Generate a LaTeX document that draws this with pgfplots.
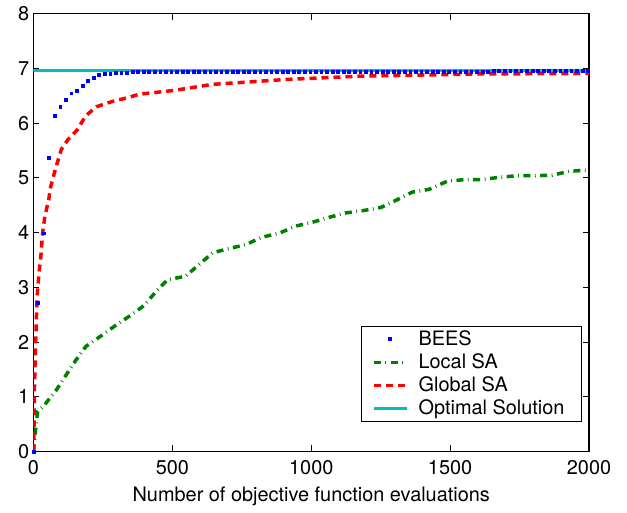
\documentclass[border=0pt]{standalone}
\usepackage{fontspec}
\setmainfont{TeX Gyre Heros}
\usepackage{pgfplots}
\pgfplotsset{compat=1.18}
\definecolor{mcyan}{rgb}{0,0.75,0.75}
\definecolor{mgreen}{rgb}{0,0.5,0}

\begin{document}
\fontsize{19.9}{24}\selectfont
\begin{tikzpicture}
\begin{axis}[
  scale only axis, width=555.5pt, height=437.5pt,
  xmin=0, xmax=2000, ymin=0, ymax=8,
  xtick={0,500,...,2000}, ytick={0,1,...,8},
  scaled x ticks=false,
  /pgf/number format/1000 sep={},
  /pgf/number format/assume math mode=true,
  tick label style={font=\fontsize{19.9}{24}\selectfont},
  xticklabel style={yshift=-2.5pt},
  yticklabel style={xshift=2.5pt},
  label style={font=\fontsize{19.9}{24}\selectfont},
  xlabel style={at={(axis description cs:0.5,0)}, anchor=base, yshift=-50pt},
  tick align=inside, major tick length=6pt,
  axis line style={line width=1.3pt},
  every tick/.style={black, line width=0.8pt},
  xlabel={Number of objective function evaluations},
  legend style={at={(0.9874,0.0674)}, anchor=south east, draw=black,
    line width=1pt, font=\fontsize{19.9}{24}\selectfont,
    inner xsep=11pt, inner ysep=1.5pt, row sep=0pt, column sep=0pt,
    nodes={inner xsep=6pt, inner ysep=2pt, text height=16pt, text depth=3pt}},
  legend cell align=left,
  legend image code/.code={
    \draw[mark repeat=2,mark phase=2] plot coordinates {(0pt,0pt) (16.5pt,0pt) (33pt,0pt)};
    \path (37pt,0pt);},
]
\coordinate (ll) at (rel axis cs:0,0);
\coordinate (ur) at (rel axis cs:1,1);
% BEES
\addplot[only marks, blue, mark=square*, mark size=1.4pt] coordinates {
 (0,0)(16,2.72)(36,3.99)(56,5.37)(76,6.13)(96,6.30)(116,6.43)(136,6.55)(156,6.60)(176,6.69)
 (196,6.78)(216,6.83)(236,6.88)(256,6.90)(276,6.91)(296,6.92)(316,6.925)(336,6.93)(356,6.935)(376,6.935)
 (396,6.935)(416,6.935)(436,6.935)(456,6.935)(476,6.935)(496,6.935)(516,6.935)(536,6.935)(556,6.935)(576,6.935)
 (596,6.935)(616,6.935)(636,6.935)(656,6.935)(676,6.935)(696,6.935)(716,6.935)(736,6.935)(756,6.935)(776,6.935)
 (796,6.935)(816,6.935)(836,6.935)(856,6.935)(876,6.935)(896,6.935)(916,6.935)(936,6.935)(956,6.935)(976,6.935)
 (996,6.935)(1016,6.935)(1036,6.935)(1056,6.935)(1076,6.935)(1096,6.935)(1116,6.935)(1136,6.935)(1156,6.935)(1176,6.935)
 (1196,6.935)(1216,6.935)(1236,6.935)(1256,6.935)(1276,6.935)(1296,6.935)(1316,6.935)(1336,6.935)(1356,6.935)(1376,6.935)
 (1396,6.935)(1416,6.935)(1436,6.935)(1456,6.935)(1476,6.935)(1496,6.935)(1516,6.935)(1536,6.935)(1556,6.935)(1576,6.935)
 (1596,6.935)(1616,6.935)(1636,6.945)(1656,6.955)(1676,6.955)(1696,6.955)(1716,6.955)(1736,6.955)(1756,6.955)(1776,6.955)
 (1796,6.955)(1816,6.955)(1836,6.955)(1856,6.955)(1876,6.955)(1896,6.955)(1916,6.955)(1936,6.96)(1956,6.96)(1976,6.96)
 (1996,6.965)
};
\addlegendentry{BEES}
% Local SA
\addplot[mgreen, line width=3.5pt, dash pattern=on 7pt off 4.5pt on 0.8pt off 4.5pt] coordinates {
 (0,0)(4,0.21)(10,0.51)(15,0.73)(40,0.85)(82,1.12)(118,1.40)(153,1.67)(189,1.92)(243,2.11)
 (295,2.30)(345,2.47)(399,2.67)(439,2.91)(483,3.14)(547,3.20)(597,3.42)(645,3.63)(705,3.71)(765,3.78)
 (819,3.91)(885,3.99)(945,4.12)(1005,4.19)(1065,4.28)(1125,4.36)(1185,4.40)(1251,4.46)(1305,4.59)(1364,4.74)
 (1424,4.79)(1490,4.94)(1556,4.97)(1616,4.97)(1676,5.01)(1742,5.04)(1808,5.04)(1868,5.05)(1928,5.12)(1988,5.14)
 (2000,5.14)
};
\addlegendentry{Local SA}
% Global SA
\addplot[red, line width=3.5pt, dash pattern=on 7pt off 5pt] coordinates {
 (0,0)(2,0.5)(3.6,1.19)(6,1.7)(9.6,2.29)(13,2.84)(21,3.32)(27,3.6)(33,4.0)(41,4.3)
 (55,4.6)(60,4.8)(75,5.09)(100,5.52)(124,5.7)(158,5.88)(187,6.13)(226,6.30)(285,6.40)(334,6.46)
 (381,6.53)(507,6.60)(644,6.71)(910,6.80)(1173,6.86)(1388,6.88)(1604,6.90)(2000,6.91)
};
\addlegendentry{Global SA}
% Optimal Solution
\addplot[mcyan, line width=3pt] coordinates {(0,6.97)(2000,6.97)};
\addlegendentry{Optimal Solution}
\end{axis}
\path (ll) +(-33.5pt,-55.5pt) (ur) +(38pt,11pt);
\end{tikzpicture}
\end{document}
